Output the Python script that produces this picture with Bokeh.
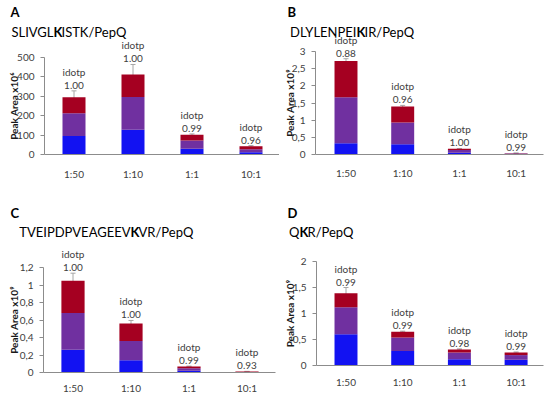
import math
from bokeh.plotting import figure
from bokeh.models import (Whisker, TeeHead, ColumnDataSource, FixedTicker,
                          CustomJSTickFormatter)
from bokeh.layouts import row, column
from bokeh.core.properties import value
from bokeh.embed import file_html
from bokeh.resources import INLINE

# ---------------- data ----------------
categories = ["1:50", "1:10", "1:1", "10:1"]

a_blue = [95, 128, 30, 12]
a_purple = [117, 169, 42, 15]
a_red = [83, 115, 30, 15]
a_err = [33, 52, 4, 4]
a_idotp = ["1.00", "1.00", "0.99", "0.96"]
a_yticks = [0, 100, 200, 300, 400, 500]

b_blue = [0.33, 0.30, 0.05, 0.01]
b_purple = [1.34, 0.63, 0.08, 0.02]
b_red = [1.05, 0.47, 0.04, 0.01]
b_err = [0.07, 0.03, 0.005, 0.003]
b_idotp = ["0.88", "0.96", "1.00", "0.99"]
b_yticks = [0, 0.5, 1, 1.5, 2, 2.5, 3]

c_blue = [0.26, 0.14, 0.02, 0.003]
c_purple = [0.42, 0.22, 0.03, 0.003]
c_red = [0.37, 0.20, 0.02, 0.006]
c_err = [0.085, 0.035, 0.003, 0.001]
c_idotp = ["1.00", "1.00", "0.99", "0.93"]
c_yticks = [0, 0.2, 0.4, 0.6, 0.8, 1, 1.2]

d_blue = [0.60, 0.28, 0.12, 0.11]
d_purple = [0.52, 0.26, 0.13, 0.09]
d_red = [0.27, 0.11, 0.06, 0.05]
d_err = [0.11, 0.01, 0.01, 0.01]
d_idotp = ["0.99", "0.99", "0.98", "0.99"]
d_yticks = [0, 0.5, 1, 1.5, 2]

COLORS = ["#1212F2", "#7030A0", "#A50021"]
FONT = "Lato"
AXIS_COLOR = "#8C8C8C"
TEXT_COLOR = "#404040"


def make_panel(letter, title_parts, ylabel, blue, purple, red, err, idotp, yticks, g):
    w, h, fl, ft, fb, c0, k = g["w"], g["h"], g["fl"], g["ft"], g["fb"], g["c0"], g["k"]
    ymax = yticks[-1]
    ky = (fb - ft) / ymax

    def xd(px):
        return (px - fl - c0) / k

    def yd(py):
        return (fb - py) / ky

    p = figure(width=w, height=h, x_range=(xd(0), xd(w)), y_range=(yd(h), yd(0)),
               output_backend="svg", toolbar_location=None, tools="",
               min_border=0, min_border_left=0, min_border_right=0,
               min_border_top=0, min_border_bottom=0)
    p.xgrid.visible = False
    p.ygrid.visible = False
    p.outline_line_color = None
    p.background_fill_color = "white"
    p.border_fill_color = "white"

    top = [b + q + r for b, q, r in zip(blue, purple, red)]
    src = ColumnDataSource(dict(
        x=list(range(len(categories))), blue=blue, purple=purple, red=red,
        upper=[t + e for t, e in zip(top, err)], lower=[t - e for t, e in zip(top, err)],
        lab=idotp, word=["idotp"] * len(categories)))

    p.vbar_stack(["blue", "purple", "red"], x="x", width=g["bw"], color=COLORS,
                 line_color=None, source=src)
    p.add_layout(Whisker(base="x", upper="upper", lower="lower", source=src,
                         line_color="#A6A6A6", line_width=1,
                         upper_head=TeeHead(size=5, line_color="#A6A6A6"),
                         lower_head=TeeHead(size=5, line_color="#A6A6A6")))
    p.text(x="x", y="upper", text="lab", source=src, text_align="center",
           text_baseline="bottom", y_offset=-2, text_font=value(FONT),
           text_font_size="10px", text_color=TEXT_COLOR)
    p.text(x="x", y="upper", text="word", source=src, text_align="center",
           text_baseline="bottom", y_offset=-13, text_font=value(FONT),
           text_font_size="10px", text_color=TEXT_COLOR)

    ya = p.yaxis[0]
    ya.fixed_location = xd(fl)
    ya.bounds = (0, ymax)
    ya.ticker = FixedTicker(ticks=yticks)
    ya.formatter = CustomJSTickFormatter(code="return tick.toString().replace('.', ',');")
    ya.axis_line_color = AXIS_COLOR
    ya.major_tick_line_color = AXIS_COLOR
    ya.major_tick_out = 4
    ya.major_tick_in = 0
    ya.minor_tick_line_color = None
    ya.major_label_text_font = FONT
    ya.major_label_text_font_size = "10px"
    ya.major_label_text_color = TEXT_COLOR
    ya.major_label_standoff = 6

    xa = p.xaxis[0]
    xa.fixed_location = 0
    xa.bounds = (xd(fl), xd(g["xr"]))
    xa.ticker = FixedTicker(ticks=list(range(len(categories))))
    xa.major_label_overrides = {i: c for i, c in enumerate(categories)}
    xa.axis_line_color = AXIS_COLOR
    xa.major_tick_line_color = None
    xa.minor_tick_line_color = None
    xa.major_label_text_font = FONT
    xa.major_label_text_font_size = "10px"
    xa.major_label_text_color = TEXT_COLOR
    xa.major_label_standoff = g["xls"]

    def txt(px, py, s, size, bold=False, align="left", angle=0.0, color="#1A1A1A"):
        p.text(x=[xd(px)], y=[yd(py)], text=[s], angle=angle,
               text_font=value(FONT), text_font_size=size,
               text_font_style="bold" if bold else "normal",
               text_align=align, text_baseline="middle", text_color=color)

    lx, ly = g["letter"]
    txt(lx, ly, letter, "13px", bold=True, color="black")
    kx, ty = g["title"]
    txt(kx, ty, title_parts[0], "13px", align="right", color="black")
    txt(kx, ty, title_parts[1], "13px", bold=True, color="black")
    txt(kx + 8, ty, title_parts[2], "13px", color="black")
    txt(g["yl"], (ft + fb) / 2, ylabel, "10px", bold=True, align="center",
        angle=math.pi / 2)
    return p


geo_a = dict(w=279, h=195, fl=44, ft=57, fb=154, c0=29.5, k=59, xr=279, bw=0.39,
             letter=(10, 11), title=(53, 31), yl=13, xls=7)
geo_b = dict(w=271, h=195, fl=36, ft=51, fb=154, c0=30.5, k=56.7, xr=264, bw=0.405,
             letter=(8, 11), title=(77, 31), yl=10, xls=6)
geo_c = dict(w=279, h=199, fl=43, ft=72, fb=177, c0=29.5, k=58, xr=275, bw=0.40,
             letter=(10, 17), title=(130, 36), yl=13, xls=3)
geo_d = dict(w=271, h=199, fl=37, ft=66, fb=170, c0=29.5, k=56.7, xr=264, bw=0.405,
             letter=(8, 17), title=(20, 36), yl=10, xls=4)

pa = make_panel("A", ("SLIVGL", "K", "ISTK/PepQ"), "Peak Area x10\u2076",
                a_blue, a_purple, a_red, a_err, a_idotp, a_yticks, geo_a)
pb = make_panel("B", ("DLYLENPEI", "K", "IR/PepQ"), "Peak Area x10\u2079",
                b_blue, b_purple, b_red, b_err, b_idotp, b_yticks, geo_b)
pc = make_panel("C", ("TVEIPDPVEAGEEV", "K", "VR/PepQ"), "Peak Area x10\u2079",
                c_blue, c_purple, c_red, c_err, c_idotp, c_yticks, geo_c)
pd = make_panel("D", ("Q", "K", "R/PepQ"), "Peak Area x10\u2079",
                d_blue, d_purple, d_red, d_err, d_idotp, d_yticks, geo_d)

layout = column(row(pa, pb), row(pc, pd))
open("out.html", "w").write(file_html(layout, INLINE))
